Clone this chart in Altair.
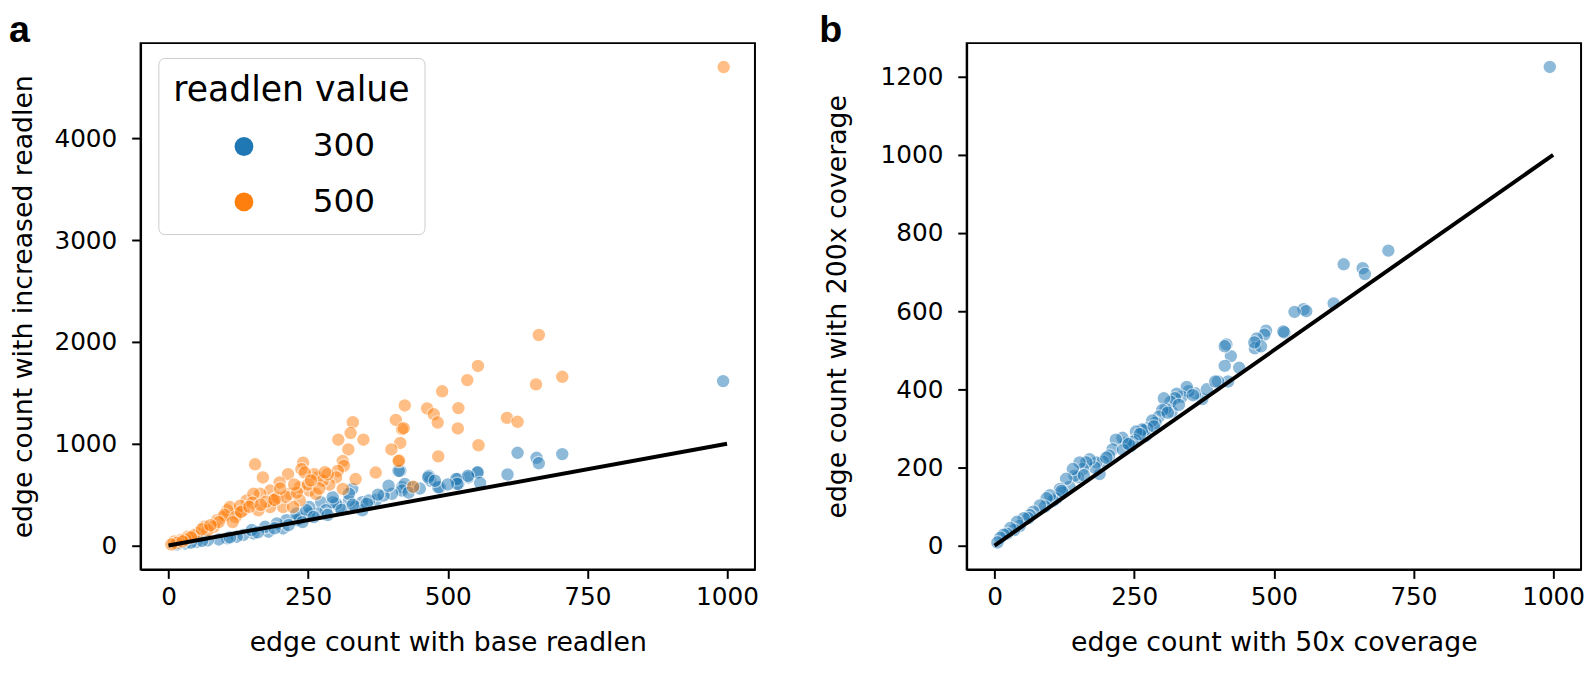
import altair as alt
import pandas as pd

# ---------------- data ----------------
readlen_300_x = [993, 625, 659, 663, 705, 607, 554, 537, 519, 518, 486, 469, 466, 415, 418,
                 553, 536, 515, 558, 517, 483, 465, 477, 438, 412, 423, 418, 400, 372, 347,
                 335, 347, 323, 306, 300, 273, 294, 282, 267, 252, 235, 229, 179, 205, 152,
                 134, 122, 105, 211, 194, 229, 173, 149, 359, 385, 394, 329, 323, 294, 252,
                 247, 90, 70, 50, 30, 15, 60, 40, 110, 160, 190, 215, 240, 260, 285, 310,
                 330, 355, 375, 430, 450, 500]
readlen_300_y = [1615, 911, 862, 808, 898, 698, 721, 669, 605, 653, 572, 637, 685, 733, 572,
                 717, 685, 653, 614, 605, 572, 669, 637, 572, 733, 605, 540, 508, 450, 426,
                 378, 346, 443, 378, 411, 426, 426, 346, 314, 314, 265, 249, 136, 168, 120,
                 104, 87, 71, 249, 217, 314, 184, 152, 443, 491, 588, 556, 508, 475, 378,
                 346, 60, 50, 35, 20, 10, 45, 28, 80, 130, 170, 200, 230, 280, 300, 350,
                 400, 410, 500, 520, 560, 600]

readlen_500_x = [994, 663, 554, 535, 490, 423, 519, 463, 475, 482, 518, 418, 415, 555, 483,
                 413, 658, 705, 606, 625, 438, 407, 421, 399, 412, 330, 326, 304, 349, 322,
                 312, 314, 303, 300, 312, 288, 335, 371, 267, 261, 241, 238, 244, 214, 199,
                 252, 235, 182, 188, 164, 155, 169, 140, 134, 122, 105, 99, 87, 81, 64,
                 52, 34, 22, 10, 205, 223, 152, 217, 276, 264, 235, 182, 161, 110, 128,
                 150, 175, 195, 210, 230, 250, 270, 285, 100, 90, 70, 45, 30, 60, 120,
                 130, 145, 165, 190, 200, 225, 255, 280, 115, 75, 40, 15, 5, 25]
readlen_500_y = [4700, 2068, 1764, 1625, 1515, 1376, 1350, 1347, 1289, 1208, 1150, 1143, 1008, 985, 876,
                 837, 1583, 1657, 1254, 1215, 578, 1234, 1153, 944, 830, 1211, 1105, 1040, 1040, 944,
                 830, 782, 733, 669, 556, 598, 653, 717, 669, 701, 814, 750, 717, 701, 620,
                 540, 443, 540, 443, 508, 798, 669, 443, 346, 314, 346, 281, 249, 184, 184,
                 120, 87, 55, 39, 378, 378, 508, 508, 637, 508, 572, 378, 346, 378, 390,
                 420, 430, 470, 480, 520, 600, 560, 700, 300, 230, 150, 100, 60, 160, 280,
                 330, 380, 400, 450, 560, 600, 640, 720, 230, 200, 80, 25, 10, 40]

coverage_50x = [994, 705, 625, 659, 663, 607, 553, 558, 537, 519, 517, 486, 483, 469, 466,
                477, 465, 438, 423, 415, 412, 418, 400, 412, 372, 359, 347, 344, 335, 326,
                323, 317, 315, 306, 303, 300, 294, 288, 282, 273, 270, 267, 264, 253, 252,
                247, 244, 235, 229, 217, 211, 205, 194, 188, 182, 179, 170, 164, 158, 152,
                149, 143, 140, 134, 128, 122, 117, 110, 105, 99, 93, 90, 81, 69, 63,
                60, 52, 45, 40, 35, 28, 22, 16, 10, 5, 230, 260, 285, 310, 330,
                355, 380, 395, 120, 160, 200, 240]
coverage_200x = [1225, 755, 720, 710, 695, 620, 605, 600, 598, 545, 548, 550, 540, 530, 505,
                 510, 520, 455, 485, 515, 510, 420, 420, 460, 375, 390, 395, 406, 381, 389,
                 377, 343, 368, 350, 377, 347, 330, 314, 320, 300, 280, 295, 297, 292, 270,
                 265, 255, 263, 276, 271, 246, 230, 215, 183, 213, 200, 221, 213, 196, 213,
                 175, 179, 196, 150, 171, 135, 145, 120, 115, 129, 121, 100, 103, 87, 78,
                 70, 70, 50, 61, 40, 45, 30, 28, 20, 8, 245, 285, 305, 340, 360,
                 385, 400, 420, 140, 180, 225, 260]

diag_x = [0, 1000]
diag_y = [0, 1000]

readlen_levels = ["300", "500"]
readlen_colors = ["#1f77b4", "#ff7f0e"]
x_ticks = [0, 250, 500, 750, 1000]
y_ticks_a = [0, 1000, 2000, 3000, 4000]
y_ticks_b = [0, 200, 400, 600, 800, 1000, 1200]

# ---------------- tables ----------------
df_a = pd.concat([
    pd.DataFrame({"base": readlen_300_x, "inc": readlen_300_y, "readlen value": "300", "o": 0}),
    pd.DataFrame({"base": readlen_500_x, "inc": readlen_500_y, "readlen value": "500", "o": 1}),
], ignore_index=True)
df_b = pd.DataFrame({"c50": coverage_50x, "c200": coverage_200x})
df_line = pd.DataFrame({"x": diag_x, "y": diag_y})

FONT = "DejaVu Sans"
W, H = 621, 532

axis_common = dict(
    domainColor="black", domainWidth=2, tickColor="black", tickWidth=2, tickSize=9,
    labelFont=FONT, labelFontSize=25, labelColor="black", grid=False, format="d",
    titleFont=FONT, titleFontSize=27, titleFontWeight="normal", titleColor="black",
)

x_scale = alt.Scale(domain=[-50, 1050], nice=False, zero=False)

def x_axis(title):
    return alt.Axis(title=title, values=x_ticks, labelPadding=6, titlePadding=21, **axis_common)

def y_axis(title, vals, tp):
    return alt.Axis(title=title, values=vals, labelPadding=15, titlePadding=tp, **axis_common)

# ---------------- panel a ----------------
pts_a = alt.Chart(df_a).mark_circle(size=190, opacity=0.5, stroke="white", strokeWidth=1.2).encode(
    x=alt.X("base:Q", scale=x_scale, axis=x_axis("edge count with base readlen")),
    y=alt.Y("inc:Q", scale=alt.Scale(domain=[-235, 4935], nice=False, zero=False),
            axis=y_axis("edge count with increased readlen", y_ticks_a, 17)),
    color=alt.Color("readlen value:N",
                    scale=alt.Scale(domain=readlen_levels, range=readlen_colors),
                    legend=alt.Legend(
                        orient="none", legendX=18, legendY=15,
                        title="readlen value", titleFont=FONT, titleFontSize=35,
                        titleFontWeight="normal", titleColor="black", titlePadding=23,
                        titleLimit=600,
                        labelFont=FONT, labelFontSize=33, labelColor="black",
                        symbolType="circle", symbolSize=361, symbolOpacity=1,
                        symbolStrokeWidth=0, symbolOffset=55, labelOffset=53,
                        rowPadding=22, padding=15, fillColor="white",
                        strokeColor="#cccccc", cornerRadius=6)),
    order=alt.Order("o:Q"),
)

line_a = alt.Chart(df_line).mark_line(color="black", strokeWidth=4).encode(
    x=alt.X("x:Q", scale=x_scale), y=alt.Y("y:Q"))

label_a = alt.Chart(pd.DataFrame({"t": ["a"]})).mark_text(
    font="Liberation Sans", fontWeight="bold", fontSize=38, align="left",
    baseline="alphabetic", color="black").encode(
    text="t:N", x=alt.value(-133), y=alt.value(-1))

panel_a = alt.layer(pts_a, line_a, label_a).properties(width=W, height=H)

# ---------------- panel b ----------------
pts_b = alt.Chart(df_b).mark_circle(size=190, opacity=0.5, stroke="white", strokeWidth=1.2,
                                     color="#1f77b4").encode(
    x=alt.X("c50:Q", scale=x_scale, axis=x_axis("edge count with 50x coverage")),
    y=alt.Y("c200:Q", scale=alt.Scale(domain=[-61, 1286], nice=False, zero=False),
            axis=y_axis("edge count with 200x coverage", y_ticks_b, 29)),
)
line_b = alt.Chart(df_line).mark_line(color="black", strokeWidth=4).encode(
    x=alt.X("x:Q", scale=x_scale), y=alt.Y("y:Q"))
label_b = alt.Chart(pd.DataFrame({"t": ["b"]})).mark_text(
    font="Liberation Sans", fontWeight="bold", fontSize=38, align="left",
    baseline="alphabetic", color="black").encode(
    text="t:N", x=alt.value(-149), y=alt.value(-1))

panel_b = alt.layer(pts_b, line_b, label_b).properties(width=W, height=H)

chart = alt.hconcat(panel_a, panel_b, spacing=59).resolve_scale(
    color="independent", x="independent", y="independent"
).properties(
    padding={"left": 0, "top": 0, "right": 0, "bottom": 0},
).configure(background="white").configure_view(stroke="black", strokeWidth=2)

chart.save("out.html", embed_options={"renderer": "svg", "actions": False})
